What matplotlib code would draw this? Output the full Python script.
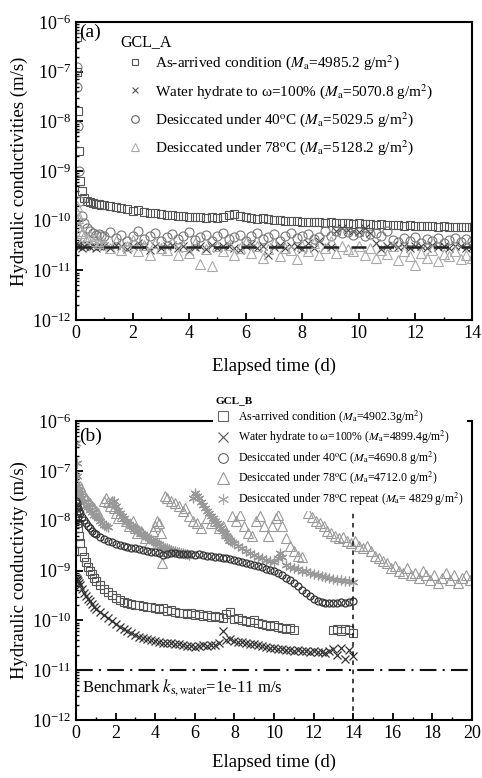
import numpy as np
import matplotlib
matplotlib.use('Agg')
import matplotlib.pyplot as plt
from matplotlib.lines import Line2D
from matplotlib.ticker import MultipleLocator, FixedLocator, NullFormatter

plt.rcParams['font.family'] = ['Liberation Serif', 'DejaVu Serif']
plt.rcParams['mathtext.fontset'] = 'stix'

# ---------------- data (log10 of k in m/s) ----------------
# common time axis (days) for the 0-14 d series
t_days = [0.02, 0.04, 0.07, 0.1, 0.15, 0.2, 0.3, 0.4, 0.5, 0.6, 0.7, 0.8, 0.9,
          1.0, 1.2, 1.4, 1.6, 1.8, 2.0, 2.2, 2.4, 2.6, 2.8, 3.0,
          3.2, 3.4, 3.6, 3.8, 4.0, 4.2, 4.4, 4.6, 4.8, 5.0, 5.2,
          5.4, 5.6, 5.8, 6.0, 6.2, 6.4, 6.6, 6.8, 7.0, 7.2, 7.4,
          7.6, 7.8, 8.0, 8.2, 8.4, 8.6, 8.8, 9.0, 9.2, 9.4, 9.6,
          9.8, 10.0, 10.2, 10.4, 10.6, 10.8, 11.0, 11.2, 11.4, 11.6, 11.8,
          12.0, 12.2, 12.4, 12.6, 12.8, 13.0, 13.2, 13.4, 13.6, 13.8, 14.0]

# GCL_A
a_arrived = [-6.3, -7.0, -7.8, -8.6, -9.2, -9.4, -9.55, -9.6, -9.62, -9.64, -9.66, -9.67, -9.68,
             -9.69, -9.71, -9.73, -9.75, -9.77, -9.8, -9.79, -9.82, -9.84, -9.85, -9.87,
             -9.88, -9.89, -9.9, -9.91, -9.92, -9.93, -9.92, -9.94, -9.93, -9.95, -9.92,
             -9.88, -9.87, -9.9, -9.93, -9.95, -9.96, -9.95, -9.97, -9.98, -9.99, -10.0,
             -10.0, -10.01, -10.02, -10.02, -10.03, -10.02, -10.04, -10.03, -10.05, -10.04, -10.05,
             -10.06, -10.05, -10.07, -10.06, -10.08, -10.07, -10.08, -10.09, -10.08, -10.1, -10.09,
             -10.1, -10.11, -10.1, -10.11, -10.12, -10.11, -10.12, -10.13, -10.12, -10.13, -10.13]
a_hydrate = [-10.45, -10.5, -10.48, -10.52, -10.5, -10.55, -10.5, -10.47, -10.53, -10.5, -10.55, -10.5, -10.52,
             -10.5, -10.55, -10.48, -10.52, -10.58, -10.5, -10.45, -10.53, -10.6, -10.5, -10.55,
             -10.52, -10.48, -10.56, -10.5, -10.62, -10.53, -10.5, -10.57, -10.48, -10.55, -10.52,
             -10.5, -10.56, -10.6, -10.52, -10.47, -10.55, -10.5, -10.7, -10.53, -10.48, -10.56,
             -10.52, -10.5, -10.58, -10.45, -10.55, -10.4, -10.5, -10.53, -10.2, -10.15, -10.18,
             -10.2, -10.22, -10.15, -10.25, -10.45, -10.57, -10.5, -10.48, -10.54, -10.5, -10.56,
             -10.52, -10.5, -10.55, -10.48, -10.53, -10.5, -10.56, -10.52, -10.5, -10.55, -10.53]
a_dry40 = [-6.9, -7.3, -8.1, -9.0, -9.6, -9.9, -10.05, -10.15, -10.2, -10.25, -10.28, -10.26, -10.3,
           -10.3, -10.22, -10.35, -10.28, -10.4, -10.3, -10.2, -10.36, -10.3, -10.25, -10.4,
           -10.32, -10.27, -10.36, -10.3, -10.22, -10.38, -10.33, -10.28, -10.4, -10.3, -10.24,
           -10.36, -10.32, -10.28, -10.4, -10.31, -10.24, -10.37, -10.33, -10.27, -10.4, -10.3,
           -10.25, -10.35, -10.3, -10.26, -10.37, -10.32, -10.2, -10.3, -10.2, -10.25, -10.22,
           -10.28, -10.22, -10.3, -10.26, -10.24, -10.3, -10.2, -10.38, -10.42, -10.35, -10.4,
           -10.33, -10.45, -10.36, -10.4, -10.34, -10.44, -10.38, -10.35, -10.42, -10.37, -10.4]
a_dry78 = [-9.7, -9.84, -9.95, -10.1, -10.2, -10.25, -10.3, -10.35, -10.3, -10.4, -10.35, -10.45, -10.4,
           -10.45, -10.55, -10.4, -10.6, -10.5, -10.38, -10.62, -10.48, -10.7, -10.45, -10.55,
           -10.6, -10.42, -10.7, -10.52, -10.65, -10.45, -10.88, -10.58, -10.92, -10.5, -10.62,
           -10.48, -10.7, -10.55, -10.42, -10.66, -10.5, -10.75, -10.58, -10.45, -10.72, -10.55,
           -10.6, -10.78, -10.5, -10.62, -10.45, -10.7, -10.55, -10.4, -10.65, -10.5, -10.58,
           -10.62, -10.5, -10.7, -10.56, -10.75, -10.6, -10.68, -10.52, -10.8, -10.62, -10.72,
           -10.9, -10.65, -10.75, -10.6, -10.82, -10.68, -10.72, -10.62, -10.78, -10.7, -10.75]
a_benchmark = -10.53

# GCL_B
nan = float('nan')
b_arrived = [-7.85, -7.95, -8.05, -8.15, -8.3, -8.45, -8.6, -8.72, -8.82, -8.92, -9.0, -9.08, -9.15,
             -9.22, -9.3, -9.38, -9.44, -9.5, -9.56, -9.6, -9.64, -9.66, -9.68, -9.7,
             -9.7, -9.72, -9.74, -9.73, -9.76, -9.78, -9.75, -9.82, -9.8, -9.84, -9.86,
             -9.85, -9.88, -9.86, -9.9, -9.88, -9.92, -9.9, -9.94, -9.91, -9.93, -9.95,
             -9.88, -9.84, -9.98, -9.96, -10.0, -10.02, -10.04, -10.0, -10.06, -10.08, -10.1,
             -10.12, -10.1, -10.14, -10.15, -10.18, -10.16, -10.2, nan, nan, nan, nan,
             nan, nan, nan, nan, nan, -10.2, -10.18, -10.22, -10.17, -10.2, -10.25]
b_hydrate = [-9.15, -9.18, -9.2, -9.22, -9.25, -9.3, -9.38, -9.45, -9.52, -9.58, -9.62, -9.68, -9.74,
             -9.78, -9.84, -9.9, -9.96, -10.02, -10.08, -10.13, -10.18, -10.22, -10.26, -10.3,
             -10.33, -10.36, -10.38, -10.4, -10.42, -10.43, -10.45, -10.46, -10.45, -10.47, -10.48,
             -10.5, -10.52, -10.51, -10.53, -10.52, -10.5, -10.52, -10.49, -10.5, -10.45, -10.22,
             -10.4, -10.38, -10.42, -10.44, -10.43, -10.46, -10.48, -10.47, -10.5, -10.52, -10.53,
             -10.55, -10.56, -10.58, -10.57, -10.6, -10.59, -10.61, -10.6, -10.62, -10.61, -10.63,
             -10.62, -10.64, -10.63, -10.65, -10.62, -10.58, -10.7, -10.55, -10.78, -10.6, -10.72]
b_dry40 = [-7.6, -7.65, -7.7, -7.75, -7.8, -7.85, -7.92, -7.98, -8.05, -8.1, -8.15, -8.2, -8.24,
           -8.27, -8.32, -8.36, -8.4, -8.43, -8.46, -8.48, -8.5, -8.52, -8.54, -8.55,
           -8.57, -8.58, -8.6, -8.62, -8.63, -8.65, -8.68, -8.66, -8.64, -8.65, -8.66,
           -8.66, -8.67, -8.66, -8.68, -8.67, -8.69, -8.7, -8.7, -8.72, -8.72, -8.74,
           -8.75, -8.76, -8.78, -8.8, -8.82, -8.84, -8.86, -8.88, -8.9, -8.93, -8.96,
           -8.99, -9.02, -9.06, -9.1, -9.15, -9.2, -9.26, -9.32, -9.4, -9.46, -9.52,
           -9.58, -9.62, -9.64, -9.65, -9.66, -9.65, -9.66, -9.64, -9.65, -9.63, -9.62]

t_b78 = [0.05, 0.1, 0.2, 0.3, 0.4, 0.5, 0.6, 0.7, 0.8, 0.9, 1.0, 1.1,
         1.4, 1.5, 1.6, 1.7, 1.8, 1.9, 2.0, 2.1,
         2.3, 2.5, 2.7, 2.9, 3.0, 3.1, 3.3, 3.5, 3.7,
         3.9, 4.0, 4.1, 4.2, 4.3, 4.35, 4.4,
         4.5, 4.6, 4.8, 5.0, 5.2, 5.4, 5.5, 5.7, 5.9, 6.1, 6.3,
         6.6, 6.8, 7.0, 7.2, 7.4, 7.6, 7.8,
         7.9, 8.1, 8.3, 8.5, 8.7, 8.9, 9.1, 9.3, 9.5, 9.7, 9.9, 10.1, 10.2, 10.4,
         10.6, 10.8, 11.0, 11.2, 11.4,
         11.7, 11.9, 12.1, 12.3, 12.5, 12.7, 12.9, 13.1, 13.3, 13.5, 13.7, 13.9,
         14.1, 14.3, 14.5, 14.7, 14.9, 15.1, 15.3, 15.5, 15.7, 15.9, 16.1, 16.3,
         16.5, 16.7, 16.9, 17.1, 17.3, 17.5, 17.7, 17.9, 18.1, 18.3, 18.5, 18.7,
         18.9, 19.1, 19.3, 19.5, 19.7, 19.9]
b_dry78 = [-7.45, -7.35, -7.3, -7.4, -7.5, -7.55, -7.6, -7.65, -7.7, -7.75, -7.8, -7.85,
           -7.6, -7.55, -7.62, -7.7, -7.6, -7.75, -7.85, -7.95,
           -7.9, -8.0, -8.1, -8.0, -8.15, -8.25, -8.2, -8.35, -8.45,
           -8.2, -8.1, -8.0, -8.05, -8.25, -8.85, -8.6,
           -7.5, -7.55, -7.6, -7.65, -7.7, -7.8, -7.75, -7.9, -8.0, -8.05, -8.15,
           -7.95, -8.05, -8.0, -8.15, -8.1, -8.25, -8.35,
           -7.9, -8.0, -7.88, -8.1, -8.25, -8.3, -8.0, -7.9, -8.1, -8.3, -8.1, -7.95, -7.88, -8.1,
           -8.35, -8.5, -8.6, -8.7, -8.72,
           -7.85, -7.92, -8.0, -8.05, -8.1, -8.2, -8.25, -8.3, -8.35, -8.32, -8.4, -8.45,
           -8.4, -8.5, -8.55, -8.5, -8.6, -8.7, -8.75, -8.8, -8.85, -8.95, -8.9, -9.0,
           -9.05, -8.95, -9.1, -9.05, -9.15, -9.0, -9.1, -9.2, -9.1, -9.25, -9.15, -9.05,
           -9.2, -9.1, -9.25, -9.15, -9.1, -9.2]

t_b78r = [0.02, 0.04, 0.06, 0.08, 0.1, 0.15, 0.2, 0.3, 0.4, 0.5, 0.6, 0.7, 0.8, 0.9,
          1.0, 1.1, 1.2, 1.3, 1.4, 1.5, 1.6,
          1.8, 1.9, 2.0, 2.1, 2.2, 2.3, 2.4, 2.5, 2.6, 2.7, 2.8, 2.9, 3.0,
          3.1, 3.2, 3.3, 3.4, 3.5, 3.6, 3.7, 3.8, 3.9, 4.0, 4.1, 4.2, 4.3,
          4.4, 4.5, 4.6, 4.7, 4.8, 4.9, 5.0, 5.1, 5.2, 5.3, 5.4, 5.5, 5.6, 5.7,
          5.9, 6.0, 6.1, 6.2, 6.3, 6.4, 6.5, 6.6, 6.7, 6.8, 6.9, 7.0, 7.1,
          7.2, 7.3, 7.4, 7.5, 7.6, 7.7, 7.8, 7.9, 8.0, 8.2, 8.4, 8.6, 8.8,
          9.0, 9.2, 9.4, 9.6, 9.8, 10.0, 10.2, 10.3, 10.4, 10.6, 10.8, 11.0,
          11.2, 11.4, 11.6, 11.8, 12.0, 12.2, 12.4, 12.6, 12.8, 13.0, 13.2,
          13.4, 13.6, 13.8, 14.0]
b_dry78r = [-6.45, -6.85, -7.1, -7.3, -7.4, -7.45, -7.5, -7.55, -7.62, -7.7, -7.72, -7.78, -7.82, -7.88,
            -7.9, -7.95, -8.0, -8.05, -8.08, -8.1, -8.12,
            -7.65, -7.6, -7.7, -7.78, -7.85, -7.9, -7.95, -8.0, -8.02, -8.06, -8.1, -8.12, -8.15,
            -8.18, -8.2, -8.24, -8.26, -8.3, -8.32, -8.35, -8.38, -8.4, -8.43, -8.45, -8.47, -8.5,
            -8.52, -8.54, -8.55, -8.57, -8.58, -8.6, -8.6, -8.62, -8.62, -8.64, -8.65, -8.66, -8.67, -8.68,
            -7.55, -7.45, -7.5, -7.55, -7.62, -7.68, -7.74, -7.8, -7.85, -7.9, -7.95, -8.0, -8.05,
            -8.1, -8.15, -8.2, -8.25, -8.3, -8.35, -8.38, -8.42, -8.45, -8.5, -8.55, -8.6, -8.64,
            -8.68, -8.72, -8.75, -8.78, -8.8, -8.82, -8.75, -8.65, -8.72, -8.88, -8.92, -8.95,
            -8.97, -9.0, -9.02, -9.05, -9.08, -9.1, -9.12, -9.14, -9.16, -9.18, -9.2,
            -9.2, -9.22, -9.22, -9.24]
b_benchmark = 1e-11
b_cutoff_day = 14

# y-axis decades shown
y_decades = [1e-12, 1e-11, 1e-10, 1e-9, 1e-8, 1e-7, 1e-6]

labels_a = ['As-arrived condition ($M_{\\rm a}$=4985.2 g/m$^2$)',
            'Water hydrate to ω=100% ($M_{\\rm a}$=5070.8 g/m$^2$)',
            'Desiccated under 40$^{\\rm o}$C ($M_{\\rm a}$=5029.5 g/m$^2$)',
            'Desiccated under 78$^{\\rm o}$C ($M_{\\rm a}$=5128.2 g/m$^2$)']
labels_b = ['As-arrived condition ($M_{\\rm a}$=4902.3g/m$^2$)',
            'Water hydrate to ω=100% ($M_{\\rm a}$=4899.4g/m$^2$)',
            'Desiccated under 40$^{\\rm o}$C ($M_{\\rm a}$=4690.8 g/m$^2$)',
            'Desiccated under 78$^{\\rm o}$C ($M_{\\rm a}$=4712.0 g/m$^2$)',
            'Desiccated under 78$^{\\rm o}$C repeat ($M_{\\rm a}$= 4829 g/m$^2$)']

# ---------------- figure ----------------
W, H = 482, 778
fig = plt.figure(figsize=(W / 100, H / 100), dpi=100)
ax1 = fig.add_axes([76 / W, 1 - 320 / H, 396 / W, 298 / H])
ax2 = fig.add_axes([76 / W, 1 - 720 / H, 396 / W, 299 / H])


def k(v):
    return 10.0 ** np.array(v, dtype=float)


def style_axes(ax, xmax, ylabel, xlab_y):
    ax.set_yscale('log')
    ax.set_ylim(y_decades[0], y_decades[-1])
    ax.set_xlim(0, xmax)
    ax.xaxis.set_major_locator(MultipleLocator(2))
    ax.xaxis.set_minor_locator(MultipleLocator(1))
    ax.yaxis.set_major_locator(FixedLocator(y_decades))
    minor = [d * m for d in y_decades[:-1] for m in range(2, 10)]
    ax.yaxis.set_minor_locator(FixedLocator(minor))
    ax.yaxis.set_minor_formatter(NullFormatter())
    ax.tick_params(which='both', direction='in', top=False, right=False, labelsize=13)
    ax.tick_params(which='major', length=5, width=1.3)
    ax.tick_params(which='minor', length=2.5, width=1.0)
    for s in ax.spines.values():
        s.set_linewidth(1.5)
    ax.set_xlabel('Elapsed time (d)', fontsize=13.5)
    ax.xaxis.set_label_coords(0.5, xlab_y)
    ax.set_ylabel(ylabel, fontsize=13.5)
    ax.yaxis.set_label_coords(-0.12, 0.5)


# ---- panel (a) ----
ax = ax1
ax.plot(t_days, k(a_arrived), ls='none', marker='s', ms=6, mfc='none', mec='#555555', mew=0.8)
ax.plot(t_days, k(a_hydrate), ls='none', marker='x', ms=5.5, mec='#444444', mew=0.8)
ax.plot(t_days, k(a_dry40), ls='none', marker='o', ms=6.5, mfc='none', mec='#777777', mew=0.8)
ax.plot(t_days, k(a_dry78), ls='none', marker='^', ms=6.5, mfc='none', mec='#aaaaaa', mew=0.8)
ax.axhline(10 ** a_benchmark, color='#222222', lw=1.8, ls=(0, (6, 5)))
style_axes(ax, 14, 'Hydraulic conductivities (m/s)', -0.128)
ax.text(0.008, 0.966, '(a)', transform=ax.transAxes, fontsize=14, va='center', ha='left')
ax.text(0.111, 0.933, 'GCL_A', transform=ax.transAxes, fontsize=11.5, va='center', ha='left')
h_a = [Line2D([], [], ls='none', marker='s', ms=5, mfc='none', mec='#555555', mew=0.8),
       Line2D([], [], ls='none', marker='x', ms=5, mec='#555555', mew=0.8),
       Line2D([], [], ls='none', marker='o', ms=5.5, mfc='none', mec='#666666', mew=0.8),
       Line2D([], [], ls='none', marker='^', ms=5.5, mfc='none', mec='#aaaaaa', mew=0.8)]
ax.legend(h_a, labels_a, loc='upper left', bbox_to_anchor=(0.13, 0.895), frameon=False,
          fontsize=11, handlelength=1.0, handletextpad=0.8, labelspacing=0.62,
          borderpad=0, borderaxespad=0)

# ---- panel (b) ----
ax = ax2
ax.plot(t_b78, k(b_dry78), ls='none', marker='^', ms=7, mfc='none', mec='#999999', mew=0.8)
ax.plot(t_b78r, k(b_dry78r), ls='none', marker=(6, 2, 0), ms=7, mec='#999999', mew=0.9)
ax.plot(t_days, k(b_arrived), ls='none', marker='s', ms=5.5, mfc='none', mec='#555555', mew=0.8)
ax.plot(t_days, k(b_dry40), ls='none', marker='o', ms=5, mfc='none', mec='#333333', mew=0.9)
ax.plot(t_days, k(b_hydrate), ls='none', marker='x', ms=5.5, mec='#333333', mew=0.9)
ax.axhline(b_benchmark, color='#111111', lw=1.5, ls=(0, (8, 3, 1, 3)))
ax.axvline(b_cutoff_day, color='#111111', lw=1.1, ls=(0, (3, 3)))
style_axes(ax, 20, 'Hydraulic conductivity (m/s)', -0.112)
ax.text(0.008, 0.95, '(b)', transform=ax.transAxes, fontsize=14, va='center', ha='left')
ax.text(0.015, 0.11, 'Benchmark $k_{\\rm s,water}$=1e-11 m/s', transform=ax.transAxes,
        fontsize=12, va='center', ha='left')
h_b = [Line2D([], [], ls='none', marker='s', ms=7, mfc='none', mec='#666666', mew=0.8),
       Line2D([], [], ls='none', marker='x', ms=7, mec='#555555', mew=0.8),
       Line2D([], [], ls='none', marker='o', ms=7, mfc='none', mec='#666666', mew=0.8),
       Line2D([], [], ls='none', marker='^', ms=8, mfc='none', mec='#999999', mew=0.8),
       Line2D([], [], ls='none', marker=(6, 2, 0), ms=8, mec='#aaaaaa', mew=0.8)]
leg = ax.legend(h_b, labels_b, loc='upper left', bbox_to_anchor=(213 / W, 1 - 393 / H),
                bbox_transform=fig.transFigure, frameon=True, fancybox=False,
                facecolor='white', edgecolor='none', framealpha=1.0,
                fontsize=8.5, handlelength=1.2, handletextpad=0.7, labelspacing=0.28,
                borderpad=0.25, borderaxespad=0, title='GCL_B', alignment='left',
                title_fontproperties={'size': 8, 'weight': 'bold'})

fig.savefig('out.png', dpi=100)
